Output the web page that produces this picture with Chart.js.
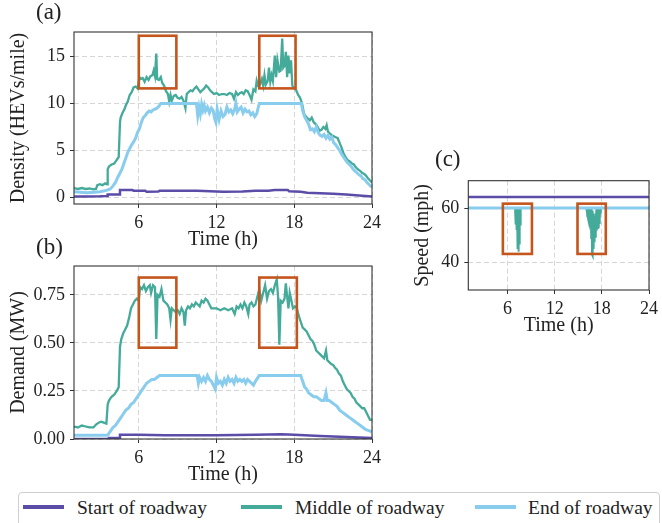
<!DOCTYPE html>
<html>
<head>
<meta charset="utf-8">
<script src="https://cdn.jsdelivr.net/npm/chart.js@4.4.1/dist/chart.umd.min.js"></script>
<style>
  body { margin: 0; background: #fff; }
  #wrap { position: relative; width: 662px; height: 523px; overflow: hidden; font-family: 'Liberation Serif', serif; color: #222; }
  canvas { position: absolute; }
  .tag { position: absolute; font-size: 23px; line-height: 24px; }
  #legend { position: absolute; left: 18px; top: 492px; width: 642px; height: 44px; box-sizing: border-box;
            border: 1px solid #cfcfcf; border-radius: 4px; background: #fff; }
  .sw { position: absolute; top: 12px; width: 41px; height: 4px; }
  .lt { position: absolute; top: 5px; font-size: 19.5px; line-height: 19px; white-space: nowrap; }
</style>
</head>
<body>
<div id="wrap">
  <canvas id="chartA" width="385" height="252" style="left:0;top:0"></canvas>
  <canvas id="chartB" width="385" height="253" style="left:0;top:234px"></canvas>
  <canvas id="chartC" width="262" height="208" style="left:400px;top:130px"></canvas>
  <div class="tag" style="left:36px;top:0">(a)</div>
  <div class="tag" style="left:36px;top:235px">(b)</div>
  <div class="tag" style="left:435px;top:147px">(c)</div>
  <div id="legend"></div>
</div>
<script>
const seriesNames = ["Start of roadway", "Middle of roadway", "End of roadway"];
const seriesColors = ["#5b4ca8", "#44aa99", "#88ccee"];
const boxColor = "#c4561d";

const xTicks = [6, 12, 18, 24];
const densityTicks = [0, 5, 10, 15];
const demandTicks = [0, 0.25, 0.5, 0.75];
const speedTicks = [40, 60];

// (a) density, HEVs/mile
const densityStartTime = [1, 2, 3, 3.55, 3.6, 4.5, 4.55, 5.5, 5.6, 6.5, 6.6, 7.5, 7.6, 9.5, 10.5, 11.5, 12.5, 14, 15, 16, 16.5, 17.5, 17.6, 18.5, 19, 20, 21, 22, 23, 24];
const densityStart = [0.1, 0.1, 0.12, 0.15, 0.3, 0.32, 0.8, 0.78, 0.72, 0.7, 0.6, 0.62, 0.7, 0.72, 0.7, 0.65, 0.6, 0.62, 0.7, 0.72, 0.8, 0.8, 0.65, 0.6, 0.5, 0.45, 0.4, 0.3, 0.2, 0.1];

const densityMidTime = [1, 1.3, 1.6, 1.9, 2.2, 2.5, 2.7, 2.8, 3, 3.2, 3.4, 3.55, 3.6, 3.7, 3.9, 4.1, 4.3, 4.45, 4.55, 4.6, 4.75, 4.9, 5, 5.15, 5.3, 5.45, 5.6, 5.75, 5.9, 6.05, 6.15, 6.3, 6.45, 6.6, 6.75, 6.9, 7.05, 7.15, 7.25, 7.35, 7.42, 7.55, 7.7, 7.8, 7.95, 8.1, 8.25, 8.35, 8.45, 8.55, 8.7, 8.85, 9, 9.15, 9.3, 9.45, 9.6, 9.7, 9.85, 10, 10.15, 10.3, 10.45, 10.6, 10.75, 10.9, 11.05, 11.2, 11.35, 11.5, 11.65, 11.8, 12, 12.2, 12.4, 12.6, 12.8, 13, 13.2, 13.35, 13.5, 13.65, 13.8, 13.95, 14.1, 14.25, 14.4, 14.55, 14.7, 14.85, 15, 15.1, 15.2, 15.35, 15.5, 15.6, 15.7, 15.8, 15.95, 16.05, 16.15, 16.25, 16.35, 16.5, 16.6, 16.7, 16.85, 16.95, 17.07, 17.15, 17.25, 17.35, 17.45, 17.55, 17.65, 17.75, 17.85, 18, 18.15, 18.3, 18.45, 18.6, 18.75, 18.9, 19.05, 19.2, 19.35, 19.5, 19.65, 19.8, 19.95, 20.1, 20.25, 20.4, 20.5, 20.6, 20.75, 20.9, 21.05, 21.2, 21.35, 21.5, 21.65, 21.8, 21.95, 22.1, 22.3, 22.45, 22.6, 22.75, 22.9, 23.1, 23.25, 23.4, 23.55, 23.7, 23.85, 24];
const densityMid = [1.0, 0.9, 1.0, 0.9, 0.95, 0.85, 0.9, 1.3, 1.4, 1.3, 1.5, 1.4, 3.0, 3.3, 3.5, 3.6, 4.0, 4.3, 8.0, 8.5, 9.0, 9.4, 9.8, 10.2, 10.9, 11.2, 11.7, 11.8, 11.6, 12.8, 12.6, 12.7, 12.3, 12.8, 12.5, 12.9, 13.0, 13.5, 12.9, 15.3, 12.6, 12.5, 12.8, 12.2, 11.9, 11.3, 11.0, 10.2, 10.9, 10.3, 10.8, 10.9, 10.6, 10.5, 10.7, 10.3, 9.5, 11.0, 11.2, 11.4, 11.3, 11.6, 11.8, 11.5, 11.2, 11.4, 11.6, 11.9, 11.7, 11.4, 11.2, 11.0, 11.1, 10.9, 11.0, 11.0, 10.9, 11.1, 11.0, 10.5, 11.2, 10.9, 11.1, 11.2, 11.0, 11.4, 11.3, 10.9, 10.4, 11.5, 11.3, 12.4, 11.9, 12.0, 12.6, 11.9, 13.0, 12.0, 12.4, 13.8, 12.3, 13.0, 12.4, 15.1, 12.8, 14.6, 13.4, 13.5, 16.9, 13.8, 14.0, 15.5, 12.8, 15.1, 13.2, 14.6, 11.9, 11.6, 11.4, 10.9, 10.6, 10.0, 8.9, 8.6, 8.4, 8.2, 8.5, 8.0, 7.8, 7.5, 7.1, 7.2, 7.5, 7.3, 7.7, 7.0, 6.8, 6.6, 6.5, 6.4, 6.3, 5.8, 5.3, 4.7, 4.3, 4.0, 3.8, 3.6, 3.5, 3.2, 3.0, 2.8, 2.6, 2.5, 2.3, 2.0, 1.8, 1.6];

const densityEndTime = [1, 1.5, 2, 2.5, 3, 3.5, 3.8, 4, 4.2, 4.4, 4.55, 4.7, 4.85, 5, 5.15, 5.3, 5.45, 5.6, 5.75, 5.9, 6.05, 6.2, 6.35, 6.5, 6.65, 6.8, 6.95, 7.1, 7.25, 7.4, 7.55, 7.7, 10.45, 10.55, 10.65, 10.75, 10.85, 10.95, 11.05, 11.15, 11.3, 11.45, 11.6, 11.75, 11.85, 11.95, 12.05, 12.2, 12.35, 12.5, 12.65, 12.8, 12.95, 13.1, 13.25, 13.4, 13.5, 13.6, 13.75, 13.9, 14.05, 14.2, 14.35, 14.5, 14.65, 14.8, 14.95, 15.1, 15.3, 18.55, 18.65, 18.8, 18.95, 19.1, 19.25, 19.4, 19.55, 19.7, 19.85, 20, 20.15, 20.3, 20.45, 20.6, 20.75, 20.9, 21.05, 21.2, 21.35, 21.5, 21.65, 21.8, 21.95, 22.1, 22.25, 22.4, 22.55, 22.7, 22.85, 23, 23.15, 23.3, 23.45, 23.6, 23.75, 23.9, 24];
const densityEnd = [0.6, 0.55, 0.5, 0.55, 0.6, 0.75, 0.9, 1.2, 1.6, 2.2, 2.6, 3.0, 3.6, 4.2, 4.8, 5.2, 5.6, 5.9, 6.3, 6.9, 7.3, 8.0, 8.5, 8.7, 9.0, 9.2, 9.1, 9.3, 9.4, 9.5, 9.7, 10.0, 10.0, 8.7, 9.6, 8.9, 9.9, 9.3, 9.8, 9.2, 9.6, 9.0, 9.5, 9.2, 8.4, 8.0, 9.4, 8.3, 9.2, 8.6, 8.8, 9.6, 9.1, 9.3, 8.9, 9.4, 10.0, 9.1, 9.4, 9.6, 9.0, 9.4, 9.1, 9.2, 8.8, 9.0, 8.6, 8.9, 10.0, 10.0, 9.2, 8.6, 8.2, 7.8, 7.2, 7.3, 7.0, 7.5, 6.9, 6.6, 6.5, 6.7, 6.3, 6.6, 6.2, 6.4, 5.8, 5.6, 5.3, 5.0, 4.6, 4.3, 4.0, 3.7, 3.5, 3.3, 3.0, 2.8, 2.6, 2.4, 2.3, 2.0, 1.9, 1.6, 1.4, 1.2, 1.1];

// (b) demand, MW
const demandStartTime = [1, 3.6, 3.7, 4.5, 4.55, 6, 8, 12, 15, 17, 18, 20, 22, 24];
const demandStart = [0.0, 0.0, 0.005, 0.007, 0.022, 0.022, 0.02, 0.02, 0.022, 0.025, 0.022, 0.015, 0.01, 0.005];

const demandMidTime = [1, 1.3, 1.6, 1.9, 2.2, 2.5, 2.7, 2.9, 3.1, 3.3, 3.5, 3.6, 3.7, 3.9, 4.1, 4.3, 4.45, 4.55, 4.65, 4.8, 4.95, 5.1, 5.25, 5.4, 5.55, 5.7, 5.85, 6, 6.1, 6.25, 6.4, 6.55, 6.7, 6.85, 6.95, 7.1, 7.25, 7.35, 7.45, 7.6, 7.75, 7.9, 8.05, 8.2, 8.35, 8.45, 8.55, 8.7, 8.85, 9, 9.15, 9.3, 9.45, 9.55, 9.65, 9.8, 9.95, 10.1, 10.25, 10.4, 10.55, 10.7, 10.85, 11, 11.15, 11.3, 11.45, 11.6, 11.8, 12, 12.3, 12.6, 12.9, 13.2, 13.4, 13.55, 13.7, 13.85, 14, 14.15, 14.3, 14.45, 14.55, 14.7, 14.85, 15, 15.15, 15.3, 15.45, 15.6, 15.75, 15.9, 16.05, 16.2, 16.35, 16.5, 16.65, 16.75, 16.85, 16.95, 17.1, 17.25, 17.35, 17.45, 17.55, 17.65, 17.75, 17.9, 18.05, 18.2, 18.35, 18.5, 18.65, 18.8, 18.95, 19.1, 19.25, 19.4, 19.55, 19.7, 19.85, 20, 20.15, 20.3, 20.45, 20.55, 20.7, 20.85, 21, 21.15, 21.3, 21.45, 21.6, 21.75, 21.9, 22.05, 22.2, 22.35, 22.5, 22.65, 22.8, 22.95, 23.1, 23.25, 23.4, 23.55, 23.7, 23.85, 24];
const demandMid = [0.065, 0.06, 0.07, 0.065, 0.06, 0.06, 0.075, 0.085, 0.09, 0.085, 0.08, 0.18, 0.2, 0.22, 0.23, 0.25, 0.27, 0.48, 0.52, 0.55, 0.57, 0.59, 0.63, 0.68, 0.7, 0.72, 0.73, 0.72, 0.79, 0.78, 0.8, 0.77, 0.79, 0.8, 0.76, 0.8, 0.79, 0.52, 0.75, 0.74, 0.78, 0.72, 0.71, 0.7, 0.68, 0.62, 0.68, 0.67, 0.66, 0.67, 0.65, 0.68, 0.66, 0.59, 0.67, 0.69, 0.68, 0.7, 0.69, 0.71, 0.7, 0.69, 0.72, 0.71, 0.73, 0.72, 0.7, 0.68, 0.68, 0.68, 0.67, 0.68, 0.67, 0.68, 0.65, 0.69, 0.68, 0.7, 0.68, 0.71, 0.69, 0.65, 0.7, 0.71, 0.69, 0.7, 0.74, 0.78, 0.72, 0.76, 0.8, 0.73, 0.77, 0.78, 0.76, 0.8, 0.83, 0.74, 0.49, 0.72, 0.71, 0.73, 0.81, 0.74, 0.68, 0.76, 0.73, 0.68, 0.69, 0.68, 0.64, 0.61, 0.58, 0.57, 0.56, 0.54, 0.52, 0.51, 0.49, 0.46, 0.45, 0.44, 0.43, 0.42, 0.46, 0.41, 0.4, 0.39, 0.385, 0.37, 0.36, 0.34, 0.33, 0.3, 0.28, 0.26, 0.25, 0.24, 0.22, 0.21, 0.19, 0.18, 0.17, 0.16, 0.16, 0.14, 0.12, 0.1, 0.1];

const demandEndTime = [1, 2, 3, 3.6, 3.8, 4, 4.2, 4.4, 4.6, 4.8, 5, 5.2, 5.4, 5.6, 5.8, 6, 6.2, 6.4, 6.6, 6.8, 7, 7.2, 7.4, 7.6, 10.5, 10.6, 10.7, 10.85, 11, 11.15, 11.3, 11.45, 11.6, 11.75, 11.9, 12, 12.15, 12.3, 12.45, 12.6, 12.75, 12.9, 13.05, 13.2, 13.35, 13.5, 13.65, 13.8, 13.95, 14.1, 14.25, 14.4, 14.55, 14.7, 14.85, 15, 15.3, 18.5, 18.65, 18.8, 18.95, 19.1, 19.3, 19.5, 19.7, 19.9, 20.1, 20.3, 20.45, 20.55, 20.7, 20.9, 21.1, 21.3, 21.5, 21.7, 21.9, 22.1, 22.3, 22.5, 22.7, 22.9, 23.1, 23.3, 23.5, 23.7, 23.9, 24];
const demandEnd = [0.02, 0.02, 0.02, 0.02, 0.04, 0.06, 0.07, 0.09, 0.11, 0.13, 0.15, 0.16, 0.18, 0.19, 0.21, 0.23, 0.25, 0.27, 0.29, 0.3, 0.31, 0.31, 0.32, 0.33, 0.33, 0.29, 0.32, 0.3, 0.32, 0.3, 0.33, 0.31, 0.3, 0.28, 0.26, 0.32, 0.29, 0.3, 0.28, 0.31, 0.29, 0.32, 0.3, 0.31, 0.29, 0.32, 0.3, 0.31, 0.3, 0.31, 0.29, 0.31, 0.3, 0.29, 0.28, 0.3, 0.33, 0.33, 0.3, 0.27, 0.26, 0.24, 0.23, 0.22, 0.22, 0.21, 0.2, 0.2, 0.24, 0.2, 0.2, 0.19, 0.18, 0.17, 0.15, 0.14, 0.13, 0.12, 0.11, 0.1, 0.09, 0.08, 0.07, 0.06, 0.05, 0.045, 0.04, 0.035];

// (c) speed, mph
const speedStartTime = [1, 24];
const speedStart = [64, 64];
const speedEndTime = [1, 24];
const speedEnd = [60, 60];
const speedMidTime = [1, 6.95, 7.0, 7.03, 7.06, 7.09, 7.12, 7.15, 7.18, 7.21, 7.24, 7.27, 7.3, 7.33, 7.36, 7.39, 7.42, 7.45, 7.48, 7.51, 7.54, 7.57, 7.6, 7.63, 7.66, 7.7,
  16.0, 16.05, 16.1, 16.15, 16.2, 16.25, 16.3, 16.35, 16.4, 16.45, 16.5, 16.55, 16.6, 16.65, 16.7, 16.75, 16.8, 16.85, 16.9, 16.95, 17.0, 17.05, 17.1, 17.15, 17.2, 17.25, 17.3, 17.35, 17.4, 17.45, 17.5, 17.55, 17.6, 17.65, 17.7, 17.75, 17.8, 17.85, 17.9, 24];
const speedMid = [60, 60, 57, 60, 54, 60, 53, 60, 52, 60, 49, 60, 45, 59, 44, 58, 44, 60, 47, 60, 51, 60, 54, 60, 57, 60,
  60, 59, 60, 57, 60, 56, 60, 55, 60, 54, 60, 53, 60, 49, 60, 43, 59, 42.5, 58, 45, 57, 47.5, 57, 49.5, 58, 51, 60, 51.8, 60, 52.3, 60, 53, 60, 54.5, 60, 56, 60, 58, 60, 60];

// highlighted windows: [tStart, tEnd, yLow, yHigh]
const densityBoxes = [[6.0, 8.9, 11.6, 17.2], [15.3, 18.1, 11.6, 17.2]];
const demandBoxes = [[6.0, 8.9, 0.475, 0.84], [15.3, 18.2, 0.475, 0.84]];
const speedBoxes = [[5.4, 9.1, 43.2, 61.6], [14.9, 18.5, 43.2, 61.6]];

Chart.defaults.font.family = "'Liberation Serif', serif";
Chart.defaults.font.size = 18;
Chart.defaults.color = "#222";

const pts = (t, v) => t.map((x, i) => ({ x: x, y: v[i] }));

const framePlugin = {
  id: "frame",
  afterDatasetsDraw(chart, args, opts) {
    const { ctx, chartArea: a } = chart;
    const x = chart.scales.x, y = chart.scales.y;
    ctx.save();
    ctx.strokeStyle = boxColor;
    ctx.lineWidth = 2.6;
    (opts.boxes || []).forEach(b => {
      const l = x.getPixelForValue(b[0]), r = x.getPixelForValue(b[1]);
      const lo = y.getPixelForValue(b[2]), hi = y.getPixelForValue(b[3]);
      ctx.strokeRect(l, hi, r - l, lo - hi);
    });
    ctx.strokeStyle = "#333";
    ctx.lineWidth = 1.1;
    ctx.strokeRect(a.left, a.top, a.width, a.height);
    ctx.restore();
  }
};

function grid() {
  return { color: "#d6d6d6", lineWidth: 1, tickLength: 4, tickColor: "#333", tickWidth: 1, tickBorderDash: [] };
}

function makePanel(id, series, yCfg, pad, yTitlePad, boxes) {
  const datasets = series.map((s, i) => ({
    label: seriesNames[i],
    data: s.data,
    borderColor: seriesColors[i],
    borderWidth: s.width,
    pointRadius: 0,
    tension: 0,
    fill: false,
    order: 2 - i
  }));
  return new Chart(document.getElementById(id), {
    type: "line",
    data: { datasets: datasets },
    options: {
      responsive: false,
      animation: false,
      devicePixelRatio: 1,
      layout: { padding: pad },
      plugins: { legend: { display: false }, tooltip: { enabled: false }, frame: { boxes: boxes } },
      scales: {
        x: {
          type: "linear", min: 1, max: 24,
          afterBuildTicks: s => { s.ticks = xTicks.map(v => ({ value: v })); },
          afterFit: s => { s.height = 48; },
          grid: grid(),
          border: { display: false, dash: [5, 3] },
          ticks: { padding: 4, maxRotation: 0, callback: v => String(v) },
          title: { display: true, text: "Time (h)", font: { size: 20 }, padding: { top: 0, bottom: 0 } }
        },
        y: {
          type: "linear", min: yCfg.min, max: yCfg.max,
          afterBuildTicks: s => { s.ticks = yCfg.ticks.map(v => ({ value: v })); },
          afterFit: s => { s.width = yCfg.width; },
          grid: grid(),
          border: { display: false, dash: [5, 3] },
          ticks: { padding: 5, callback: yCfg.fmt },
          title: { display: true, text: yCfg.title, font: { size: 20 }, padding: { top: yTitlePad, bottom: 0 } }
        }
      }
    },
    plugins: [framePlugin]
  });
}

makePanel("chartA", [
  { data: pts(densityStartTime, densityStart), width: 2.5 },
  { data: pts(densityMidTime, densityMid), width: 2.3 },
  { data: pts(densityEndTime, densityEnd), width: 3 }
], { min: -0.7, max: 17.6, ticks: densityTicks, width: 74, title: "Density (HEVs/mile)", fmt: v => String(v) },
  { left: 0, top: 32, right: 12, bottom: 0 }, 7, densityBoxes);

makePanel("chartB", [
  { data: pts(demandStartTime, demandStart), width: 2.5 },
  { data: pts(demandMidTime, demandMid), width: 2.3 },
  { data: pts(demandEndTime, demandEnd), width: 3 }
], { min: 0, max: 0.9, ticks: demandTicks, width: 74, title: "Demand (MW)", fmt: v => v.toFixed(2) },
  { left: 0, top: 32, right: 12, bottom: 0 }, 7, demandBoxes);

makePanel("chartC", [
  { data: pts(speedStartTime, speedStart), width: 2.5 },
  { data: pts(speedMidTime, speedMid), width: 2 },
  { data: pts(speedEndTime, speedEnd), width: 3 }
], { min: 30, max: 70, ticks: speedTicks, width: 68.3, title: "Speed (mph)", fmt: v => String(v) },
  { left: 0, top: 50.7, right: 10.3, bottom: 0 }, 11, speedBoxes);

// legend
const legendEl = document.getElementById("legend");
const swatchLeft = [4, 222, 456];
const textLeft = [58, 276, 509];
seriesNames.forEach((name, i) => {
  const sw = document.createElement("div");
  sw.className = "sw";
  sw.style.left = swatchLeft[i] + "px";
  sw.style.background = seriesColors[i];
  legendEl.appendChild(sw);
  const tx = document.createElement("div");
  tx.className = "lt";
  tx.style.left = textLeft[i] + "px";
  tx.textContent = name;
  legendEl.appendChild(tx);
});
</script>
</body>
</html>
